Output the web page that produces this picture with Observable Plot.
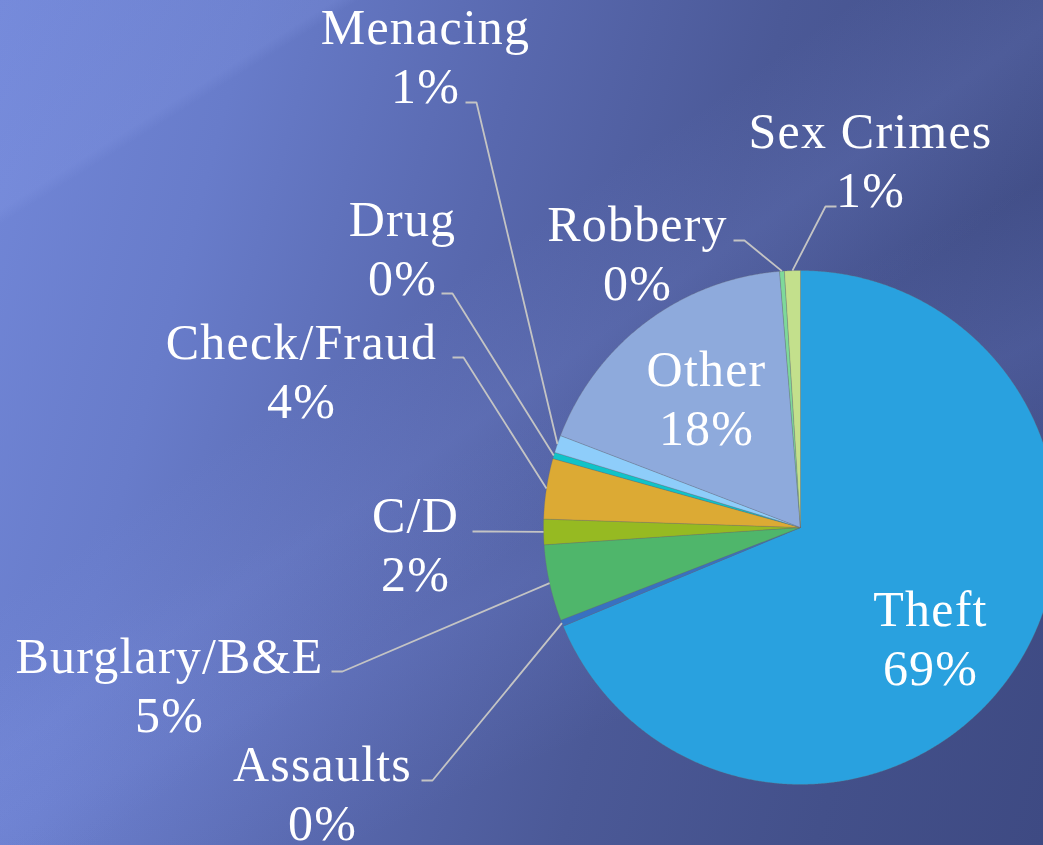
<!DOCTYPE html>
<html>
<head>
<meta charset="utf-8">
<script src="https://cdn.jsdelivr.net/npm/d3@7"></script>
<script src="https://cdn.jsdelivr.net/npm/@observablehq/plot@0.6"></script>
<style>
  html, body { margin: 0; padding: 0; width: 1043px; height: 845px; overflow: hidden; }
  body {
    background:
      linear-gradient(148deg, rgba(150,170,245,0.10) 0%, rgba(150,170,245,0.16) 14%, rgba(150,170,245,0) 15%),
      linear-gradient(145deg, rgba(150,170,245,0) 38%, rgba(140,160,240,0.14) 48%, rgba(150,170,245,0) 58%),
      linear-gradient(155deg, rgba(150,170,245,0) 50%, rgba(130,150,235,0.16) 62%, rgba(150,170,245,0) 76%),
      linear-gradient(105deg, #7287d8 0%, #687cca 20%, #5868ae 42%, #4b5997 62%, #43508a 82%, #3e4a83 100%);
  }
  #chart svg { display: block; }
  #chart text { letter-spacing: 1.2px; }
</style>
</head>
<body>
<div id="chart"></div>
<script>
// ---- data ----
const categories = ["Theft", "Assaults", "Burglary/B&E", "C/D", "Check/Fraud", "Drug", "Menacing", "Other", "Robbery", "Sex Crimes"];
const shares = [68.8, 0.4, 4.8, 1.6, 3.8, 0.4, 1.1, 17.9, 0.3, 1.0];
const sliceColors = ["#29a1df", "#3871c1", "#4fb66b", "#96ba22", "#dcaa34", "#10c3c8", "#8ecdfa", "#8eaadc", "#7ed99a", "#c3e08c"];

// ---- layout (pixels) ----
const W = 1043, H = 845;
const CX = 800, CY = 527, R = 257;
// label placement: text centre x, baseline of last line, leader anchor (x, y) and elbow direction
const labelLayout = {
  "Theft":        {x: 930, y: 684, inside: true},
  "Other":        {x: 706, y: 444, inside: true},
  "Menacing":     {x: 425, y: 102, ax: 465, ay: 102, dir: 1},
  "Sex Crimes":   {x: 870, y: 206, ax: 836, ay: 206, dir: -1},
  "Robbery":      {x: 637, y: 299, ax: 733, ay: 240, dir: 1},
  "Drug":         {x: 402, y: 294, ax: 441, ay: 293, dir: 1},
  "Check/Fraud":  {x: 301, y: 417, ax: 452, ay: 357, dir: 1},
  "C/D":          {x: 415, y: 590, ax: 472, ay: 531, dir: 1},
  "Burglary/B&E": {x: 169, y: 731, ax: 331, ay: 671, dir: 1},
  "Assaults":     {x: 322, y: 839, ax: 421, ay: 780, dir: 1}
};

const total = d3.sum(shares);
const rows = categories.map((name, i) => ({name, value: shares[i], pct: Math.round(shares[i] / total * 100) + "%"}));
const arcs = d3.pie().sort(null).value(d => d.value).startAngle(0).endAngle(2 * Math.PI)(rows);

const px = a => CX + R * Math.sin(a);
const py = a => CY - R * Math.cos(a);

// slice polygons
const slicePts = [];
for (const a of arcs) {
  const n = Math.max(2, Math.ceil((a.endAngle - a.startAngle) / (Math.PI / 720)));
  slicePts.push({name: a.data.name, x: CX, y: CY});
  for (let k = 0; k <= n; k++) {
    const t = a.startAngle + (a.endAngle - a.startAngle) * k / n;
    slicePts.push({name: a.data.name, x: px(t), y: py(t)});
  }
  slicePts.push({name: a.data.name, x: CX, y: CY});
}

// leader lines
const leaderPts = [];
const labels = [];
for (const a of arcs) {
  const L = labelLayout[a.data.name];
  labels.push({name: a.data.name, text: a.data.name + "\n" + a.data.pct, x: L.x, y: L.y});
  if (L.inside) continue;
  const mid = (a.startAngle + a.endAngle) / 2;
  leaderPts.push({name: a.data.name, x: L.ax, y: L.ay});
  leaderPts.push({name: a.data.name, x: L.ax + 11 * L.dir, y: L.ay});
  leaderPts.push({name: a.data.name, x: px(mid), y: py(mid)});
}

const chart = Plot.plot({
  width: W, height: H,
  margin: 0,
  x: {domain: [0, W], range: [0, W], axis: null},
  y: {domain: [0, H], range: [0, H], axis: null},
  color: {domain: categories, range: sliceColors},
  style: {background: "transparent", overflow: "hidden"},
  marks: [
    Plot.line(slicePts, {x: "x", y: "y", z: "name", fill: "name", stroke: "#6b6b6b", strokeOpacity: 0.35, strokeWidth: 0.8, curve: "linear"}),
    Plot.line(leaderPts, {x: "x", y: "y", z: "name", stroke: "#c4c4c4", strokeWidth: 1.8, strokeLinejoin: "miter", strokeLinecap: "butt"}),
    Plot.text(labels, {x: "x", y: "y", text: "text", fill: "white", fontSize: 50, lineHeight: 1.18, lineAnchor: "bottom", textAnchor: "middle", fontFamily: "'Palatino Linotype', 'Book Antiqua', Palatino, 'Liberation Serif', serif"})
  ]
});
document.getElementById("chart").appendChild(chart);
</script>
</body>
</html>
